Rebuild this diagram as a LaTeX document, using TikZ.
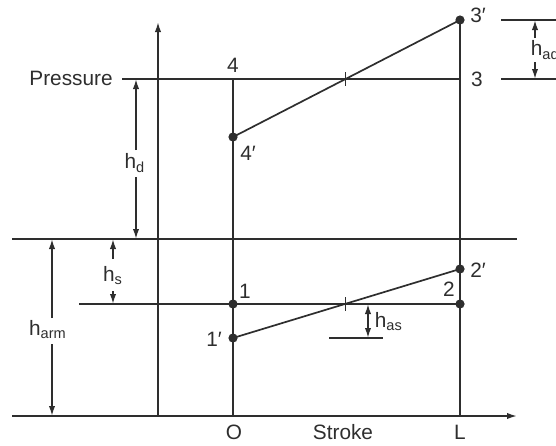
\documentclass[tikz,border=0pt]{standalone}
\usepackage{fontspec}
\setmainfont{Liberation Sans}
\usetikzlibrary{arrows.meta}

\begin{document}
\begin{tikzpicture}[x=0.5pt, y=-0.5pt, line width=0.85pt, color=black!82,
    every node/.style={font=\fontsize{10.4}{12}\selectfont, inner sep=0pt}]
		\tikzstyle{dot}=[circle, fill=black!82, minimum size=4.6pt]
		\tikzstyle{tip}=[-{Latex[length=5pt,width=3.2pt]}]
		\tikzstyle{dimline}=[{Latex[length=5pt,width=3.2pt]}-{Latex[length=5pt,width=3.2pt]}]
		\useasboundingbox (0,0) rectangle (556,445);

    % Axes and levels
		\coordinate (ax0) at (12,416);
		\coordinate (ax1) at (517,416);
		\coordinate (py0) at (158,416);
		\coordinate (py1) at (158,22);
		\coordinate (pd0) at (122,79);
		\coordinate (pd1) at (460,79);
		\coordinate (at0) at (12,239);
		\coordinate (at1) at (517,239);
		\coordinate (su0) at (79,304);
		\coordinate (su1) at (460,304);
		\coordinate (o0) at (233,79);
		\coordinate (o1) at (233,416);
		\coordinate (l1) at (460,416);

    % State points
		\node[dot](p3s) at (460,20){};
		\node[dot](p4s) at (233,137){};
		\node[dot](p1) at (233,304){};
		\node[dot](p1s) at (233,338){};
		\node[dot](p2s) at (460,269){};
		\node[dot](p2) at (460,304){};

		\draw[tip] (ax0) -- (ax1);
		\draw[tip] (py0) -- (py1);
		\draw (pd0) -- (pd1);
		\draw (at0) -- (at1);
		\draw (su0) -- (su1);
		\draw (o0) -- (o1);
		\draw (p3s.center) -- (l1);
		\draw (p4s.center) -- (p3s.center);
		\draw (p1s.center) -- (p2s.center);

    % Crossing ticks
		\draw (345.5,72) -- (345.5,86);
		\draw (345.5,297) -- (345.5,311);

    % h_ad
		\coordinate (ad0) at (501,20);
		\coordinate (ad1) at (560,20);
		\coordinate (ad2) at (501,79);
		\coordinate (ad3) at (560,79);
		\draw (ad0) -- (ad1);
		\draw (ad2) -- (ad3);
		\node[anchor=west](had) at (530,50){h\textsubscript{ad}};
		\draw[tip] (535,38) -- (535,20);
		\draw[tip] (535,62) -- (535,79);

    % h_as
		\coordinate (as0) at (329,338);
		\coordinate (as1) at (383,338);
		\draw (as0) -- (as1);
		\draw[dimline] (368,304) -- (368,338);
		\node[anchor=west](has) at (374,322){h\textsubscript{as}};

    % h_d, h_s, h_arm
		\node(hd) at (135,163){h\textsubscript{d}};
		\draw[tip] (136,150) -- (136,79);
		\draw[tip] (136,177) -- (136,239);
		\node(hs) at (113,276){h\textsubscript{s}};
		\draw[tip] (113,259) -- (113,239);
		\draw[tip] (113,291) -- (113,304);
		\node(harm) at (48,330){h\textsubscript{arm}};
		\draw[tip] (52,318) -- (52,239);
		\draw[tip] (52,344) -- (52,416);

    % Labels
		\node at (71,78){Pressure};
		\node at (233,65){4};
		\node at (248,153){4′};
		\node at (478,15){3′};
		\node at (477,79){3};
		\node at (478,270){2′};
		\node at (449,289){2};
		\node at (245,291){1};
		\node at (214,339){1′};
		\node at (234,432){O};
		\node at (343,432){Stroke};
		\node at (460,432){L};

  \end{tikzpicture}
\end{document}
